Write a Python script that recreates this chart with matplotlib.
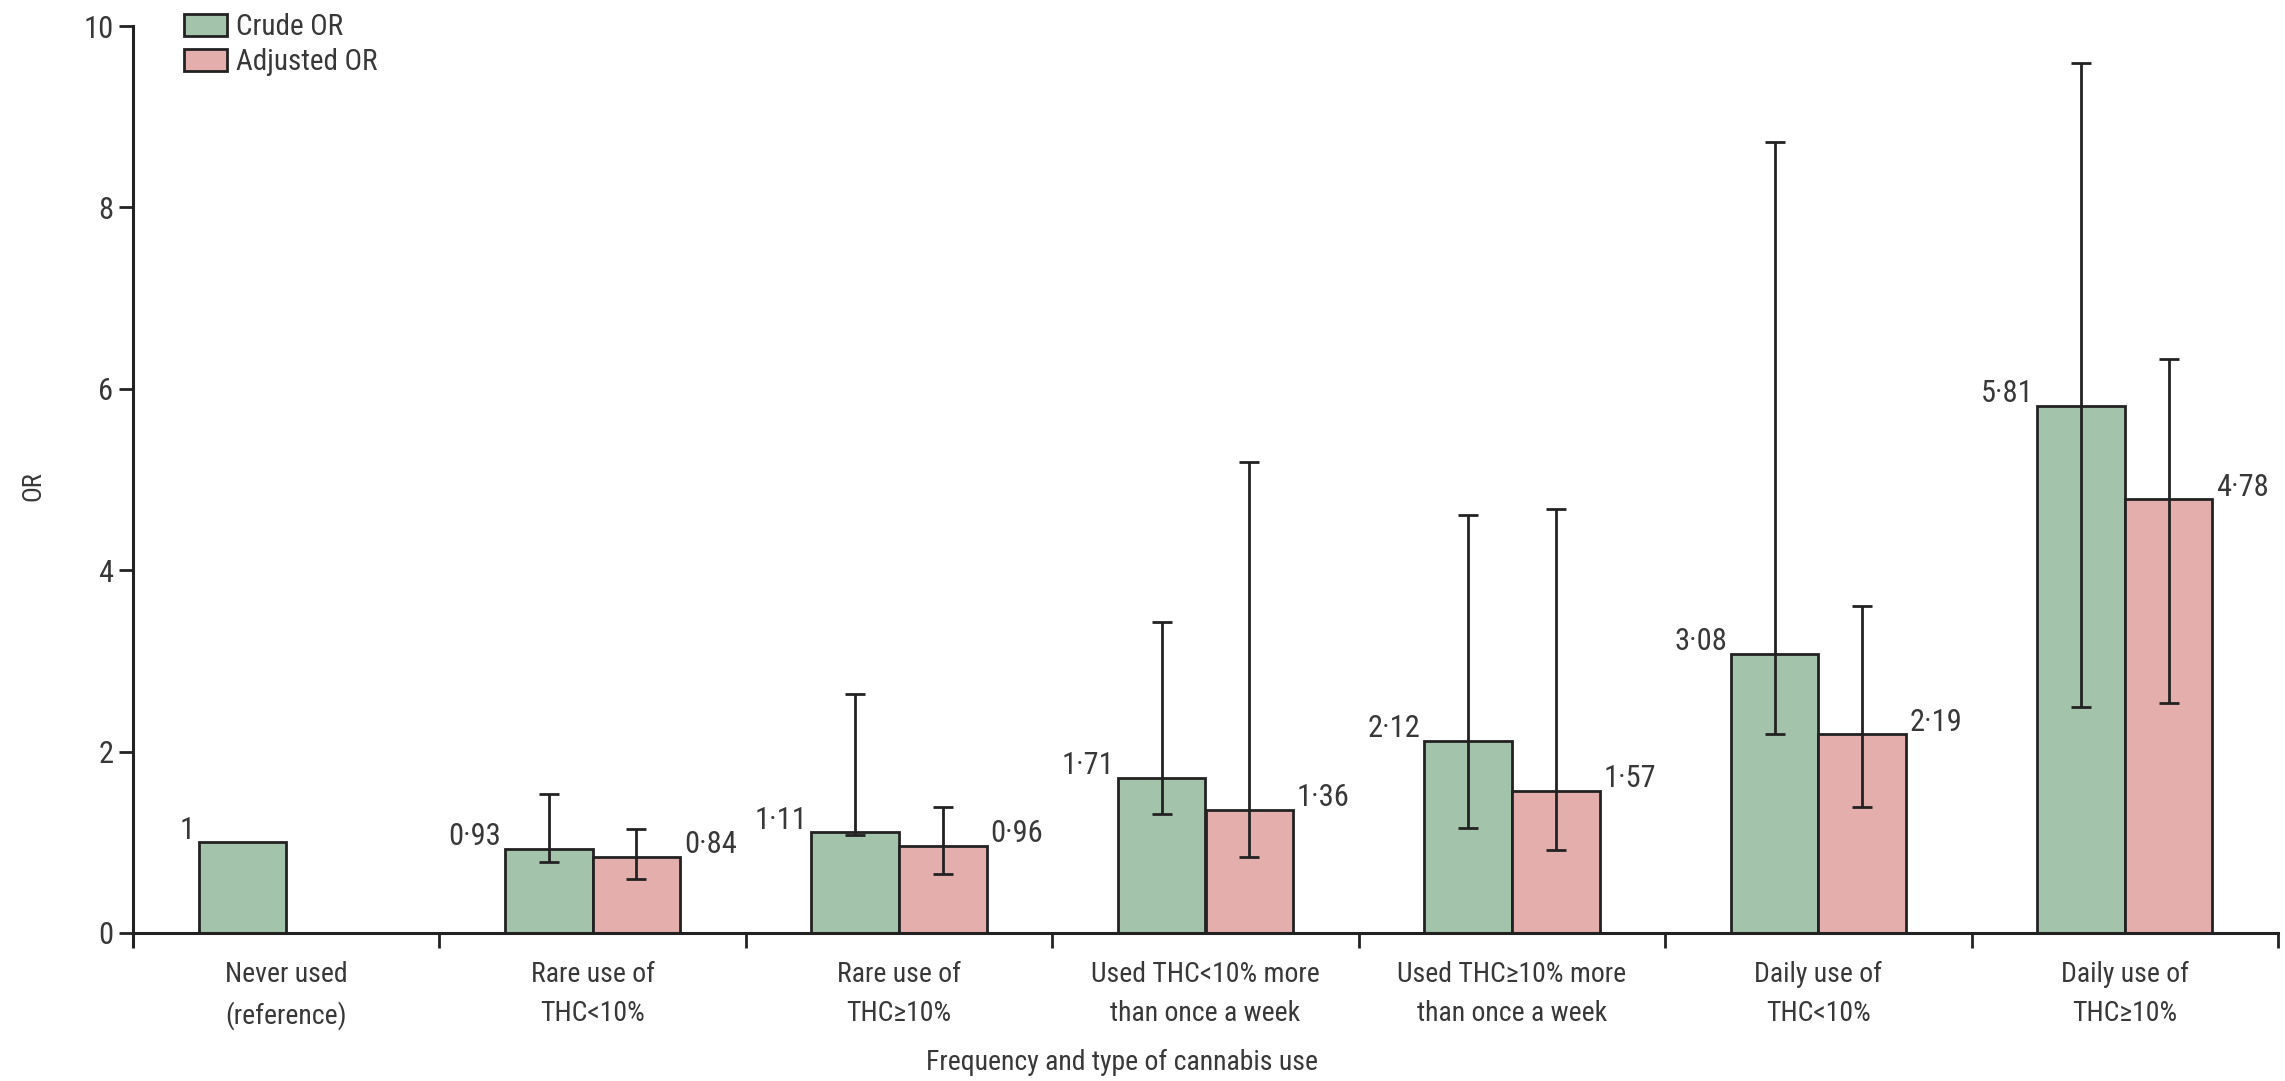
import numpy as np
import matplotlib
matplotlib.use("Agg")
import matplotlib.pyplot as plt
from matplotlib import font_manager

# data
categories = ["Never used\n(reference)", "Rare use of\nTHC<10%", "Rare use of\nTHC≥10%",
              "Used THC<10% more\nthan once a week", "Used THC≥10% more\nthan once a week",
              "Daily use of\nTHC<10%", "Daily use of\nTHC≥10%"]
crude_or = [1.0, 0.93, 1.11, 1.71, 2.12, 3.08, 5.81]
crude_lo = [np.nan, 0.78, 1.08, 1.31, 1.16, 2.19, 2.49]
crude_hi = [np.nan, 1.53, 2.64, 3.43, 4.61, 8.72, 9.59]
adj_or = [np.nan, 0.84, 0.96, 1.36, 1.57, 2.19, 4.78]
adj_lo = [np.nan, 0.60, 0.65, 0.84, 0.92, 1.39, 2.54]
adj_hi = [np.nan, 1.15, 1.39, 5.19, 4.68, 3.61, 6.33]

# try to find a narrow / condensed sans, the original uses one
fl = font_manager.fontManager.ttflist
cands = [f for f in fl if f.style == "normal" and f.weight in (400, "normal", "regular")
         and (str(f.stretch) in ("condensed", "semi-condensed") or
              "Condensed" in f.name or "Narrow" in f.name)]
pick = None
for pref in ["Liberation Sans Narrow", "DejaVu Sans Condensed", "Roboto Condensed",
             "Open Sans Condensed", "Noto Sans", "DejaVu Sans", "Open Sans", "Roboto"]:
    for f in cands:
        if f.name == pref:
            pick = f
            break
    if pick:
        break
if pick is not None:
    plt.rcParams['font.family'] = [pick.name, "DejaVu Sans"]
    plt.rcParams['font.stretch'] = str(pick.stretch)
else:
    plt.rcParams['font.family'] = ["Open Sans", "DejaVu Sans"]

green = "#a3c4aa"
red = "#e3aeac"
edge = "#222222"
txt = "#383838"

ylo = -0.14
ppu = (933 - 26) / 10.0
bot = 933 + (-ylo) * ppu
fig = plt.figure(figsize=(22.85, 10.81), dpi=100)
ax = fig.add_axes([133/2285, 1 - bot/1081, (2278-133)/2285, (bot - 26)/1081])
ax.set_ylim(ylo, 10)
ax.set_xlim(-0.5, 6.5)

x = np.arange(len(categories))
w = 0.286
crude = np.array(crude_or)
adj = np.array(adj_or)

ax.bar(x - w/2, crude, w, color=green, edgecolor=edge, linewidth=2, label="Crude OR", zorder=2)
ax.bar(x + w/2, adj, w, color=red, edgecolor=edge, linewidth=2, label="Adjusted OR", zorder=2)

clo = np.array(crude_lo); chi = np.array(crude_hi)
alo = np.array(adj_lo); ahi = np.array(adj_hi)
ax.errorbar(x - w/2, crude, yerr=[crude - clo, chi - crude], fmt="none", ecolor=edge,
            elinewidth=2, capsize=7, capthick=2, zorder=3)
ax.errorbar(x + w/2, adj, yerr=[adj - alo, ahi - adj], fmt="none", ecolor=edge,
            elinewidth=2, capsize=7, capthick=2, zorder=3)

def fmt(v):
    if v == int(v):
        return str(int(v))
    return f"{v:.2f}".replace(".", "·")

for i in range(len(categories)):
    ax.text(x[i] - w - 0.012, crude[i] + 0.04, fmt(crude[i]), ha="right", va="baseline",
            fontsize=22, color=txt)
    if not np.isnan(adj[i]):
        ax.text(x[i] + w + 0.012, adj[i] + 0.04, fmt(adj[i]), ha="left", va="baseline",
                fontsize=22, color=txt)

# axes styling
for s in ["top", "right"]:
    ax.spines[s].set_visible(False)
ax.spines["bottom"].set_position(("data", 0))
ax.spines["left"].set_linewidth(2.2)
ax.spines["bottom"].set_linewidth(2.2)
ax.spines["left"].set_color(edge)
ax.spines["bottom"].set_color(edge)

ax.set_yticks([0, 2, 4, 6, 8, 10])
ax.tick_params(axis="y", length=10, width=2, color=edge, labelsize=22, labelcolor=txt, pad=4)
ax.set_xticks(x)
ax.set_xticklabels(categories, fontsize=20, color=txt, linespacing=1.6)
ax.set_xticks(np.arange(-0.5, 7, 1), minor=True)
ax.tick_params(axis="x", which="major", length=0, pad=20)
ax.tick_params(axis="x", which="minor", length=11, width=2, color=edge)

ax.set_ylabel("OR", fontsize=19, color=txt)
ax.yaxis.set_label_coords(-0.041, 0.5)
ax.set_xlabel("Frequency and type of cannabis use", fontsize=20, color=txt)
ax.xaxis.set_label_coords(0.461, -0.112)

leg = ax.legend(loc="upper left", bbox_to_anchor=(0.024, 1.014), frameon=False, fontsize=21,
                handlelength=1.45, handleheight=0.8, handletextpad=0.3, labelspacing=0.25,
                borderpad=0, borderaxespad=0)
for t in leg.get_texts():
    t.set_color(txt)

fig.savefig("out.png", dpi=100)
